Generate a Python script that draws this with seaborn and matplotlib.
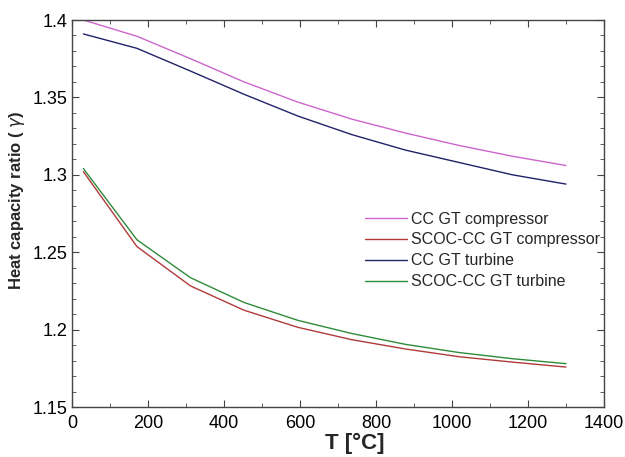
import numpy as np
import pandas as pd
import seaborn as sns
import matplotlib
matplotlib.use("agg")
import matplotlib.pyplot as plt
from matplotlib.ticker import MultipleLocator

# temperature points [°C]
temp = [30, 171, 312, 453, 594, 736, 877, 1018, 1159, 1300]

cc_compressor = [1.400, 1.3895, 1.375, 1.360, 1.347, 1.336, 1.327, 1.319, 1.312, 1.306]
scoc_compressor = [1.302, 1.2536, 1.2282, 1.2125, 1.2015, 1.1935, 1.1875, 1.1825, 1.1790, 1.1758]
cc_turbine = [1.391, 1.3817, 1.367, 1.352, 1.338, 1.326, 1.316, 1.308, 1.300, 1.294]
scoc_turbine = [1.304, 1.258, 1.2335, 1.2175, 1.2060, 1.1975, 1.1905, 1.1852, 1.1812, 1.1780]

labels = ["CC GT compressor", "SCOC-CC GT compressor", "CC GT turbine", "SCOC-CC GT turbine"]
colors = ["#cc66cc", "#b03a3a", "#22226a", "#2e8b3a"]

frames = []
for lab, vals in zip(labels, [cc_compressor, scoc_compressor, cc_turbine, scoc_turbine]):
    frames.append(pd.DataFrame({"T": temp, "gamma": vals, "series": lab}))
df = pd.concat(frames, ignore_index=True)

sns.set_style("ticks")
plt.rcParams["font.family"] = ["Liberation Sans", "DejaVu Sans"]

fig = plt.figure(figsize=(6.25, 4.57), dpi=100)
ax = fig.add_axes([0.1152, 0.1094, 0.8512, 0.8468])

sns.lineplot(data=df, x="T", y="gamma", hue="series", hue_order=labels,
             palette=colors, linewidth=1.0, ax=ax)

ax.set_xlim(0, 1400)
ax.set_ylim(1.15, 1.4)
ax.xaxis.set_major_locator(MultipleLocator(200))
ax.xaxis.set_minor_locator(MultipleLocator(100))
ax.yaxis.set_minor_locator(MultipleLocator(0.01))
ax.set_yticks([1.15, 1.2, 1.25, 1.3, 1.35, 1.4])
ax.set_yticklabels(["1.15", "1.2", "1.25", "1.3", "1.35", "1.4"])
ax.tick_params(which="both", direction="in", top=True, right=True, colors="#444444",
               labelcolor="black", labelsize=13)
ax.tick_params(axis="x", which="major", pad=6)
ax.tick_params(which="major", length=5)
ax.tick_params(which="minor", length=3)
for s in ax.spines.values():
    s.set_color("#444444")
    s.set_linewidth(1.0)

ax.set_xlabel("T [°C]", fontsize=16, fontweight="bold")
ax.xaxis.set_label_coords(0.532, -0.068)
ax.set_ylabel("Heat capacity ratio ( $\\gamma$)", fontsize=12, fontweight="bold")
ax.yaxis.set_label_coords(-0.085, 0.535)

ax.legend(loc="upper left", bbox_to_anchor=(0.551, 0.505), frameon=False, fontsize=11.5,
          borderpad=0, borderaxespad=0,
          handlelength=2.6, handletextpad=0.3, labelspacing=0.37)

plt.savefig("out.png", dpi=100)
